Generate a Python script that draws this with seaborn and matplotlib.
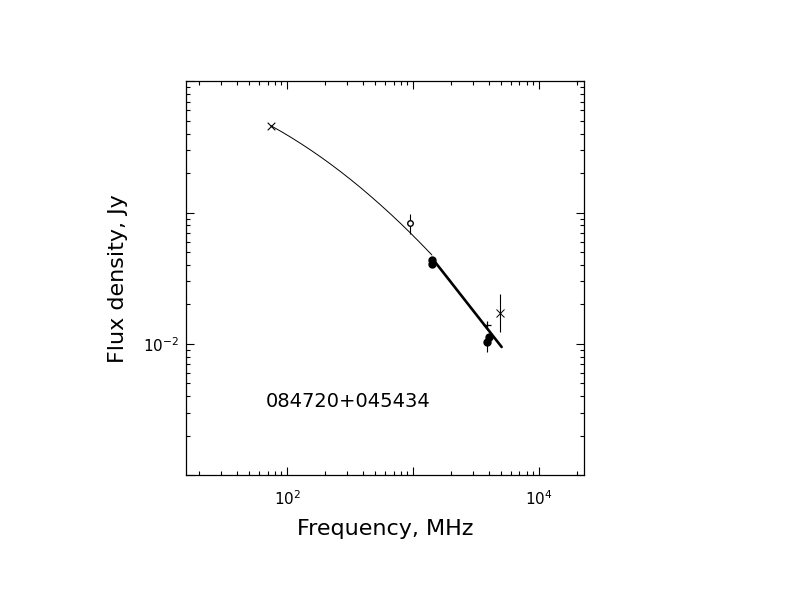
import matplotlib
matplotlib.use("Agg")

import numpy as np
import matplotlib.pyplot as plt
import matplotlib.ticker as mticker
import seaborn as sns

# Data (MHz, Jy)

# fitted spectrum, thin part
fit_thin_freq = [74.22, 89.12, 107.0, 128.5, 154.3, 185.3, 222.5, 267.2, 320.8,
                 385.2, 462.5, 555.4, 666.8, 800.8, 961.4, 1154.5, 1411.7]
fit_thin_flux = [0.4591, 0.4158, 0.3745, 0.3353, 0.2987, 0.2646, 0.2331, 0.2042,
                 0.1779, 0.1542, 0.1328, 0.1138, 0.09705, 0.08228, 0.06934,
                 0.05810, 0.04757]

# fitted spectrum, thick part
fit_thick_freq = [1412.0, 1962.0, 2830.0, 4079.0, 5053.0]
fit_thick_flux = [0.0451, 0.0302, 0.01928, 0.01233, 0.00948]

# measurements
cross_freq = [74.2]
cross_flux = [0.459]

circle_freq = [949.0]
circle_flux = [0.0829]
circle_err_lo = [0.0141]
circle_err_hi = [0.0147]

dot_freq = [1412.0, 1412.0, 4028.0, 3864.0]
dot_flux = [0.0432, 0.0406, 0.01130, 0.01035]
dot_err_lo = [0.0, 0.0, 0.0, 0.00162]
dot_err_hi = [0.0, 0.0, 0.0, 0.0]

plus_freq = [3884.0]
plus_flux = [0.01406]

xerr_freq = [4898.0]
xerr_flux = [0.0172]
xerr_lo = [0.00497]
xerr_hi = [0.0068]

source_name = "084720+045434"

# Plot

sns.set_theme(style="ticks")
plt.rcParams["font.family"] = ["DejaVu Sans"]

fig = plt.figure(figsize=(7.92, 6.12), dpi=100)
ax = fig.add_axes([0.2352, 0.2234, 0.5025, 0.6438])
ax.set_xscale("log")
ax.set_yscale("log")

sns.lineplot(x=fit_thin_freq, y=fit_thin_flux, ax=ax, color="black",
             linewidth=0.7, sort=False, estimator=None)
sns.lineplot(x=fit_thick_freq, y=fit_thick_flux, ax=ax, color="black",
             linewidth=1.9, sort=False, estimator=None)

ax.errorbar(circle_freq, circle_flux, yerr=[circle_err_lo, circle_err_hi],
            fmt="o", ms=4, mfc="white", mec="black", mew=1.0,
            ecolor="black", elinewidth=0.8, capsize=0)
ax.errorbar(dot_freq, dot_flux, yerr=[dot_err_lo, dot_err_hi],
            fmt="o", ms=5, mfc="black", mec="black",
            ecolor="black", elinewidth=0.8, capsize=0)
ax.errorbar(xerr_freq, xerr_flux, yerr=[xerr_lo, xerr_hi],
            fmt="x", ms=6, mec="black", mew=0.7,
            ecolor="black", elinewidth=0.8, capsize=0)
sns.scatterplot(x=cross_freq, y=cross_flux, ax=ax, marker="x", s=30,
                color="black", linewidth=0.8)
sns.scatterplot(x=plus_freq, y=plus_flux, ax=ax, marker="+", s=40,
                color="black", linewidth=0.9)

ax.set_xlim(15.8, 22900)
ax.set_ylim(1e-3, 1.0)

x_labeled = {100: r"$10^{2}$", 10000: r"$10^{4}$"}
y_labeled = {0.01: r"$10^{-2}$"}

def fmt_x(v, pos):
    for k, s in x_labeled.items():
        if np.isclose(v, k):
            return s
    return ""

def fmt_y(v, pos):
    for k, s in y_labeled.items():
        if np.isclose(v, k):
            return s
    return ""

ax.xaxis.set_major_locator(mticker.LogLocator(base=10, numticks=20))
ax.yaxis.set_major_locator(mticker.LogLocator(base=10, numticks=20))
ax.xaxis.set_minor_locator(mticker.LogLocator(base=10, subs=np.arange(2, 10), numticks=20))
ax.yaxis.set_minor_locator(mticker.LogLocator(base=10, subs=np.arange(2, 10), numticks=20))
ax.xaxis.set_major_formatter(mticker.FuncFormatter(fmt_x))
ax.yaxis.set_major_formatter(mticker.FuncFormatter(fmt_y))
ax.xaxis.set_minor_formatter(mticker.NullFormatter())
ax.yaxis.set_minor_formatter(mticker.NullFormatter())

ax.tick_params(which="both", direction="in", top=True, right=True,
               color="black", width=0.8, labelsize=11, labelcolor="black")
ax.tick_params(which="major", length=5.5)
ax.tick_params(which="minor", length=2.8)
ax.tick_params(axis="x", which="major", pad=10)
ax.tick_params(axis="y", which="major", pad=5)
for sp in ax.spines.values():
    sp.set_color("black")
    sp.set_linewidth(0.9)

ax.set_xlabel("Frequency, MHz", fontsize=16, color="black", labelpad=8)
ax.set_ylabel("Flux density, Jy", fontsize=16, color="black", labelpad=11)

ax.text(0.2, 0.186, source_name, transform=ax.transAxes, fontsize=14,
        color="black", ha="left", va="center")

fig.savefig("out.png", dpi=100)
plt.close(fig)
